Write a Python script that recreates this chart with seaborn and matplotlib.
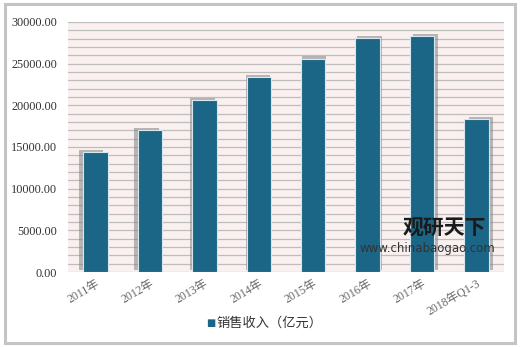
import matplotlib
matplotlib.use("Agg")
import matplotlib.pyplot as plt
import matplotlib.patheffects as pe
from matplotlib.patches import Rectangle
from matplotlib.ticker import MultipleLocator
import seaborn as sns
import pandas as pd

categories = ["2011年", "2012年", "2013年", "2014年", "2015年", "2016年", "2017年", "2018年Q1-3"]
values = [14400, 17050, 20600, 23400, 25600, 28100, 28250, 18400]
series_name = "销售收入（亿元）"
y_ticks = [0, 5000, 10000, 15000, 20000, 25000, 30000]

sns.set_theme(style="white")
plt.rcParams['font.family'] = ['Liberation Serif', 'Noto Sans CJK SC', 'DejaVu Sans']

df = pd.DataFrame({"year": categories, "value": values})
bar_color = "#1b6586"

fig = plt.figure(figsize=(5.2, 3.47), dpi=100)
ax = fig.add_axes([0.131, 0.216, 0.838, 0.721])
ax.set_facecolor("#faf0f0")

sns.barplot(data=df, x="year", y="value", color=bar_color, width=0.45,
            saturation=1, ax=ax, edgecolor="#d8e6ee", linewidth=0.8, zorder=3)

n = len(ax.patches)
for i, p in enumerate(ax.patches):
    dx = (i - (n - 1) / 2) * 0.9
    p.set_path_effects([pe.SimplePatchShadow(offset=(dx, 1.5), shadow_rgbFace="#7a7a7a", alpha=0.5),
                        pe.Normal()])

ax.set_ylim(0, 30000)
ax.set_xlim(-0.5, n - 0.5)
ax.yaxis.set_minor_locator(MultipleLocator(1000))
ax.set_yticks(y_ticks)
ax.set_yticklabels([f"{v:.2f}" for v in y_ticks], fontsize=8.8, color="#333333",
                   family=['Liberation Serif', 'DejaVu Serif'])
ax.grid(axis="y", which="both", color="#bdbdbd", linewidth=0.9, zorder=0)
ax.set_axisbelow(True)
ax.tick_params(axis="y", length=0, pad=8)
ax.tick_params(axis="x", length=0, pad=4)
ax.set_xticks(range(n))
ax.set_xticklabels(categories, rotation=30, ha="right", rotation_mode="anchor",
                   fontsize=8.5, color="#666666", family=['Liberation Serif', 'Noto Sans CJK SC'])
for s in ax.spines.values():
    s.set_visible(False)
ax.set_xlabel("")
ax.set_ylabel("")

# legend
fig.text(0.397, 0.068, "■", color=bar_color, fontsize=7, ha="left", va="center",
         family=['DejaVu Sans'])
fig.text(0.416, 0.068, series_name, color="#333333", fontsize=9.5, ha="left", va="center",
         family=['Noto Sans CJK SC'])

# watermark
fig.text(0.775, 0.343, "观研天下", color="#1a1a1a", fontsize=15, fontweight="bold",
         ha="left", va="center", family=['Noto Sans CJK SC'], zorder=10)
fig.text(0.952, 0.283, "www.chinabaogao.com", color="#333333", fontsize=8.5,
         ha="right", va="center", family=['DejaVu Sans'], zorder=10)

# outer frame
fig.patches.append(Rectangle((0.01, 0.012), 0.98, 0.976, transform=fig.transFigure,
                             fill=False, edgecolor="#c4c4c4", linewidth=2.2))

fig.savefig("out.png", dpi=100)
